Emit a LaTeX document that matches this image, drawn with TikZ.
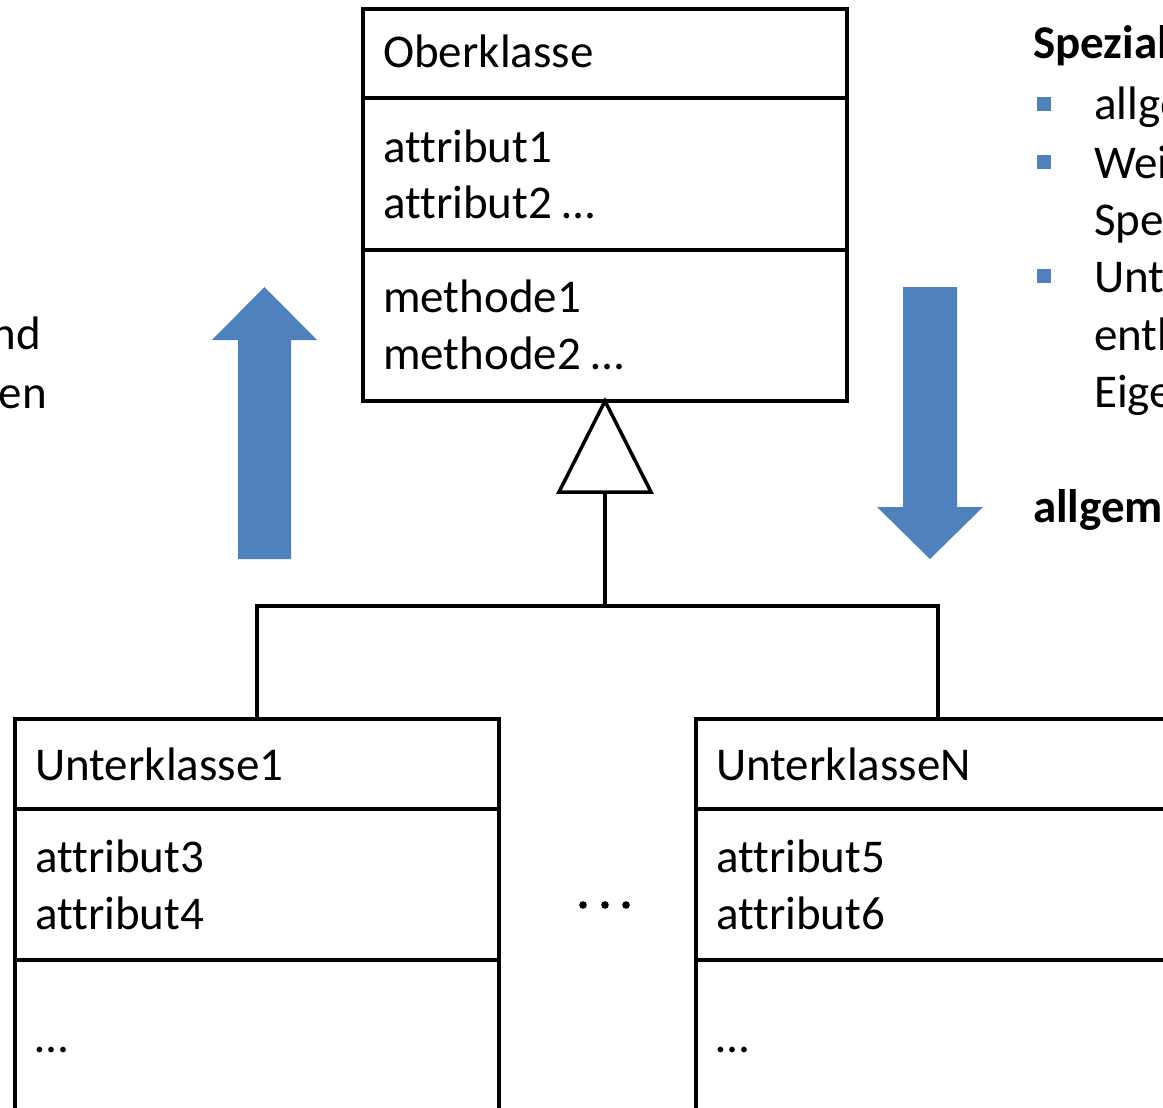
\documentclass[tikz,border=0pt]{standalone}
\usepackage{fontspec}
\setmainfont{Carlito}[Ligatures=NoCommon]
\definecolor{arrowblue}{RGB}{79,129,189}
\begin{document}
\begin{tikzpicture}[x=1pt,y=-1pt,
  compartment/.style={draw=black, line width=3.5pt, rectangle, inner sep=0pt, outer sep=0pt, anchor=north west},
  label/.style={anchor=base west, inner sep=0pt, font=\fontsize{47}{56}\selectfont},
  sidetext/.style={anchor=base west, inner sep=0pt, font=\fontsize{47}{56}\selectfont},
  bullet/.style={fill=arrowblue},
  wire/.style={draw=black, line width=3.5pt},
  bigarrow/.style={fill=arrowblue}]
\useasboundingbox (0,0) rectangle (1163,1108);
\clip (0,0) rectangle (1163,1108);

% superclass
\node[compartment, minimum width=484pt, minimum height=89pt]  (ober-name) at (363,9) {};
\node[compartment, minimum width=484pt, minimum height=152pt] (ober-attr) at (363,98) {};
\node[compartment, minimum width=484pt, minimum height=151pt] (ober-meth) at (363,250) {};
\node[label] (t-ober) at (383,68) {Oberklasse};
\node[label] (t-a1) at (383,162) {attribut1};
\node[label] (t-a2) at (383,218) {attribut2 …};
\node[label] (t-m1) at (383,312) {methode1};
\node[label] (t-m2) at (383,369) {methode2 …};

% subclass 1
\node[compartment, minimum width=484pt, minimum height=90pt]  (sub1-name) at (15,719) {};
\node[compartment, minimum width=484pt, minimum height=151pt] (sub1-attr) at (15,809) {};
\node[compartment, minimum width=484pt, minimum height=180pt] (sub1-meth) at (15,960) {};
\node[label] (t-s1) at (35,780) {Unterklasse1};
\node[label] (t-a3) at (35,872) {attribut3};
\node[label] (t-a4) at (35,929) {attribut4};
\node[label] (t-d1) at (35,1052) {…};

% subclass N
\node[compartment, minimum width=484pt, minimum height=90pt]  (subN-name) at (696,719) {};
\node[compartment, minimum width=484pt, minimum height=151pt] (subN-attr) at (696,809) {};
\node[compartment, minimum width=484pt, minimum height=180pt] (subN-meth) at (696,960) {};
\node[label] (t-sN) at (716,780) {UnterklasseN};
\node[label] (t-a5) at (716,872) {attribut5};
\node[label] (t-a6) at (716,929) {attribut6};
\node[label] (t-dN) at (716,1052) {…};

% generalization triangle and tree
\coordinate (tri-base) at (605,493);
\coordinate (junction) at (605,606);
\draw[wire, line join=miter] (ober-meth.south) -- ++(-46,91) -- ++(92,0) -- cycle;
\draw[wire] (tri-base) -- (junction);
\draw[wire] (junction) -| (sub1-name.north);
\draw[wire] (junction) -| (subN-name.north);

% ellipsis between subclasses
\foreach \dx in {583,605,626} \fill (\dx,905) circle (3.8);

% block arrows
\fill[bigarrow] (238,559) -- (238,340) -- (212,340) -- (264.5,287) -- (317,340) -- (291,340) -- (291,559) -- cycle;
\fill[bigarrow] (903,287) -- (957,287) -- (957,507) -- (983,507) -- (930,559) -- (877,507) -- (903,507) -- cycle;

% left text
\node[sidetext, anchor=base east] (l1) at (41,349) {und};
\node[sidetext, anchor=base east] (l2) at (47,408) {zusammenfassen};

% right text
\node[sidetext, font=\fontsize{47}{56}\selectfont\bfseries] (r0) at (1033,59) {Spezialisierung};
\fill[bullet] (1037,97) rectangle (1051,111);
\node[sidetext] (r1) at (1094,120) {allgemeine Klasse};
\fill[bullet] (1037,155) rectangle (1051,169);
\node[sidetext] (r2) at (1094,178) {Weitergabe an};
\node[sidetext] (r3) at (1094,235) {Spezialisierung};
\fill[bullet] (1037,269) rectangle (1051,283);
\node[sidetext] (r4) at (1094,292) {Unterklassen};
\node[sidetext] (r5) at (1094,350) {enthalten};
\node[sidetext] (r6) at (1094,407) {Eigenschaften};
\node[sidetext, font=\fontsize{47}{56}\selectfont\bfseries] (r7) at (1033,522) {allgemein};
\end{tikzpicture}
\end{document}
